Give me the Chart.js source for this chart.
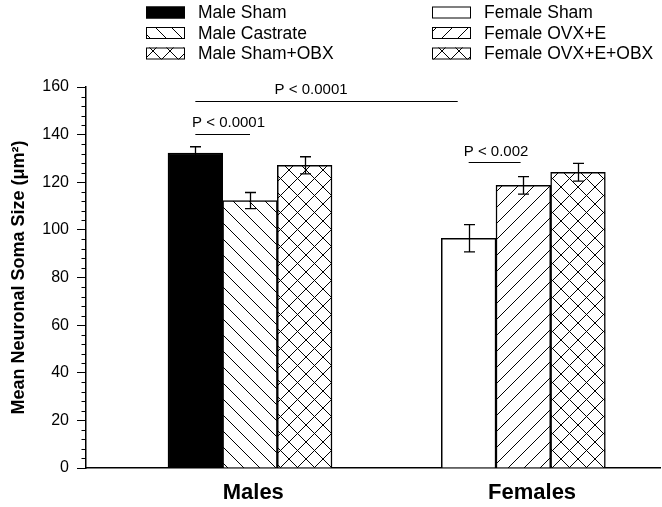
<!DOCTYPE html>
<html>
<head>
<meta charset="utf-8">
<script src="https://cdn.jsdelivr.net/npm/chart.js@4"></script>
<style>
  html, body { margin: 0; padding: 0; background: #fff; }
  #chart { display: block; }
</style>
</head>
<body>
<canvas id="chart" width="662" height="507"></canvas>
<script>
const seriesNames = ['Male Sham', 'Male Castrate', 'Male Sham+OBX', 'Female Sham', 'Female OVX+E', 'Female OVX+E+OBX'];
const barPositions = [2, 3, 4, 7, 8, 9];
const meanSize = [132.3, 112.3, 127.1, 96.5, 118.7, 124.2];
const errSize = [2.6, 3.4, 3.6, 5.7, 3.7, 3.7];
const fillKinds = ['solid', 'back', 'cross', 'white', 'fwd', 'cross'];

const groupNames = ['Males', 'Females'];
const groupPositions = [3.06, 8.16];

// significance lines and their labels, in data units
const sigLabels = ['P < 0.0001', 'P < 0.0001', 'P < 0.002'];
const sigLineX1 = [2.0, 2.0, 7.0];
const sigLineX2 = [6.8, 3.0, 7.95];
const sigLineY = [154.1, 140.3, 128.5];
const sigTextX = [3.45, 1.94, 6.91];
const sigTextY = [158.7, 145.0, 132.7];

const FONT = "'Liberation Sans', Arial, sans-serif";
Chart.defaults.font.family = FONT;
Chart.defaults.color = '#000';

const canvas = document.getElementById('chart');
const ctx = canvas.getContext('2d');

function makeFill(kind) {
    if (kind === 'solid') return '#000';
    if (kind === 'white') return '#fff';
    const size = kind === 'cross' ? 17 : 16;
    const tile = document.createElement('canvas');
    tile.width = size;
    tile.height = size;
    const g = tile.getContext('2d');
    g.fillStyle = '#fff';
    g.fillRect(0, 0, size, size);
    g.strokeStyle = '#000';
    g.lineWidth = 1;
    g.beginPath();
    if (kind === 'back' || kind === 'cross') {
        g.moveTo(-2, -2);
        g.lineTo(size + 2, size + 2);
    }
    if (kind === 'fwd' || kind === 'cross') {
        g.moveTo(-2, size + 2);
        g.lineTo(size + 2, -2);
    }
    g.stroke();
    return ctx.createPattern(tile, 'repeat');
}

const fills = fillKinds.map(makeFill);

const legendPlugin = {
    id: 'twoColumnLegend',
    afterDraw(chart) {
        const c = chart.ctx;
        c.save();
        c.font = '17.5px ' + FONT;
        c.textBaseline = 'middle';
        chart.data.datasets.forEach((ds, i) => {
            const col = i < 3 ? 0 : 1;
            const row = i % 3;
            const bx = col ? 432 : 146;
            const by = 12.5 + row * 20.5;
            c.fillStyle = ds.backgroundColor;
            c.fillRect(bx, by - 6, 39, 12);
            c.strokeStyle = '#000';
            c.lineWidth = 1;
            c.strokeRect(bx + 0.5, by - 5.5, 38, 11);
            c.fillStyle = '#000';
            c.fillText(ds.label, bx + 52, by + 1);
        });
        c.restore();
    }
};

const errorBarPlugin = {
    id: 'errorBars',
    afterDatasetsDraw(chart) {
        const c = chart.ctx;
        const y = chart.scales.y;
        c.save();
        c.strokeStyle = '#000';
        c.lineWidth = 1.3;
        chart.data.datasets.forEach((ds, i) => {
            const bar = chart.getDatasetMeta(i).data[0];
            const top = y.getPixelForValue(meanSize[i] + errSize[i]);
            const bot = y.getPixelForValue(meanSize[i] - errSize[i]);
            const x = Math.round(bar.x) + 0.5;
            c.beginPath();
            c.moveTo(x, top);
            c.lineTo(x, bot);
            c.moveTo(x - 5.5, top);
            c.lineTo(x + 5.5, top);
            c.moveTo(x - 5.5, bot);
            c.lineTo(x + 5.5, bot);
            c.stroke();
        });
        c.restore();
    }
};

const annotationPlugin = {
    id: 'sigLines',
    afterDraw(chart) {
        const c = chart.ctx;
        const xs = chart.scales.x;
        const ys = chart.scales.y;
        c.save();
        c.strokeStyle = '#000';
        c.lineWidth = 1;
        c.fillStyle = '#000';
        c.font = '15px ' + FONT;
        c.textBaseline = 'middle';
        sigLabels.forEach((label, i) => {
            const ly = Math.round(ys.getPixelForValue(sigLineY[i])) + 0.5;
            c.beginPath();
            c.moveTo(xs.getPixelForValue(sigLineX1[i]), ly);
            c.lineTo(xs.getPixelForValue(sigLineX2[i]), ly);
            c.stroke();
            c.fillText(label, xs.getPixelForValue(sigTextX[i]), ys.getPixelForValue(sigTextY[i]));
        });

        // minor ticks on the y axis
        const major = ys.options.ticks.stepSize;
        const step = major / 5;
        for (let v = ys.min + step; v < ys.max; v += step) {
            if (Math.abs(v / major - Math.round(v / major)) < 1e-6) continue;
            const py = Math.round(ys.getPixelForValue(v)) + 0.5;
            c.beginPath();
            c.moveTo(ys.right - 4.5, py);
            c.lineTo(ys.right, py);
            c.stroke();
        }
        c.restore();
    }
};

new Chart(ctx, {
    type: 'bar',
    data: {
        datasets: seriesNames.map((name, i) => ({
            label: name,
            data: [{ x: barPositions[i], y: meanSize[i] }],
            backgroundColor: fills[i],
            borderColor: '#000',
            borderWidth: 1.5,
            grouped: false,
            categoryPercentage: 1,
            barPercentage: 1
        }))
    },
    options: {
        responsive: false,
        animation: false,
        layout: {
            padding: { top: 87, right: 2, left: 0, bottom: 0 }
        },
        plugins: {
            legend: { display: false },
            tooltip: { enabled: false }
        },
        scales: {
            x: {
                type: 'linear',
                min: 0,
                max: 10.5,
                offset: false,
                afterBuildTicks: scale => {
                    scale.ticks = groupPositions.map(v => ({ value: v }));
                },
                afterFit: scale => {
                    scale.height = 39;
                },
                grid: { drawOnChartArea: false, drawTicks: false, offset: false },
                border: { color: '#000', width: 1.5 },
                ticks: {
                    padding: 12,
                    color: '#000',
                    autoSkip: false,
                    maxRotation: 0,
                    font: { size: 22, weight: 'bold' },
                    callback: (value, index) => groupNames[index]
                }
            },
            y: {
                min: 0,
                max: 160,
                afterFit: scale => {
                    scale.width = 86;
                },
                ticks: {
                    stepSize: 20,
                    padding: 8,
                    color: '#000',
                    font: { size: 16 }
                },
                grid: {
                    drawOnChartArea: false,
                    tickLength: 9,
                    tickColor: '#000',
                    tickWidth: 1
                },
                border: { color: '#000', width: 1.5 },
                title: {
                    display: true,
                    text: 'Mean Neuronal Soma Size (μm²)',
                    color: '#000',
                    font: { size: 18, weight: 'bold' },
                    padding: { top: 8, bottom: 0 }
                }
            }
        }
    },
    plugins: [legendPlugin, errorBarPlugin, annotationPlugin]
});
</script>
</body>
</html>
